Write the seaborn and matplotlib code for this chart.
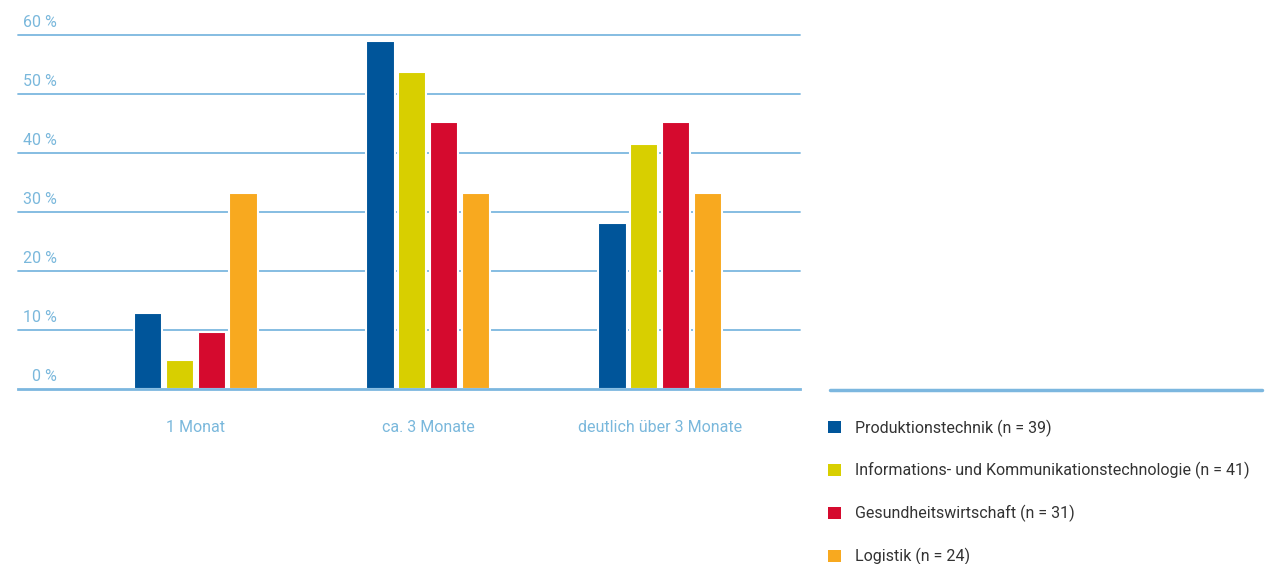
import matplotlib
matplotlib.use("Agg")
import matplotlib.pyplot as plt
import matplotlib.transforms as mtransforms
import seaborn as sns
import pandas as pd
from matplotlib.lines import Line2D

categories = ["1 Monat", "ca. 3 Monate", "deutlich über 3 Monate"]
series_names = [
    "Produktionstechnik (n = 39)",
    "Informations- und Kommunikationstechnologie (n = 41)",
    "Gesundheitswirtschaft (n = 31)",
    "Logistik (n = 24)",
]
produktion = [12.8, 59.0, 28.2]
ikt = [4.9, 53.7, 41.5]
gesundheit = [9.7, 45.2, 45.2]
logistik = [33.3, 33.3, 33.3]
y_ticks = [0, 10, 20, 30, 40, 50, 60]
y_tick_labels = ["0 %", "10 %", "20 %", "30 %", "40 %", "50 %", "60 %"]

colors = ["#00559a", "#d8cf00", "#d50a2e", "#f8a91f"]
grid_color = "#7cb7df"
label_color = "#7ab8dc"
text_color = "#333333"

rows = []
for name, vals in zip(series_names, [produktion, ikt, gesundheit, logistik]):
    for c, v in zip(categories, vals):
        rows.append({"Kategorie": c, "Branche": name, "Wert": v})
df = pd.DataFrame(rows)

sns.set_theme(style="white")
plt.rcParams["font.family"] = ["Roboto", "DejaVu Sans"]

W, H = 1265, 564
fig = plt.figure(figsize=(W / 100, H / 100), dpi=100)
ax = fig.add_axes([18 / W, (H - 389) / H, (800 - 18) / W, (389 - 35) / H])

sns.barplot(data=df, x="Kategorie", y="Wert", hue="Branche", order=categories,
            hue_order=series_names, palette=colors, width=0.55, gap=0.1,
            edgecolor="white", linewidth=1.5, saturation=1, ax=ax, zorder=3,
            legend=True)

ax.set_ylim(0, 60)
ax.set_xlim(-0.767, 2.603)
ax.set_yticks(y_ticks)
ax.set_yticklabels(y_tick_labels)
for t in y_ticks[1:]:
    ax.axhline(t, color=grid_color, lw=1.3, zorder=1, clip_on=False)

for s in ["top", "right", "left"]:
    ax.spines[s].set_visible(False)
ax.spines["bottom"].set_color(grid_color)
ax.spines["bottom"].set_linewidth(2)
ax.spines["bottom"].set_zorder(4)

ax.tick_params(axis="y", length=0, pad=-28, labelsize=11.5, labelcolor=label_color)
offset = mtransforms.ScaledTranslation(0, 5 / 100, fig.dpi_scale_trans)
for lab in ax.get_yticklabels():
    lab.set_horizontalalignment("right")
    lab.set_verticalalignment("bottom")
    lab.set_transform(lab.get_transform() + offset)
ax.tick_params(axis="x", length=0, pad=22, labelsize=11.5, labelcolor=label_color)
ax.set_xlabel("")
ax.set_ylabel("")

handles, labels = ax.get_legend_handles_labels()
ax.get_legend().remove()
fig.legend(handles, labels, loc="upper left",
           bbox_to_anchor=(822 / W, (H - 413) / H), frameon=False,
           fontsize=11.5, labelcolor=text_color, labelspacing=1.6,
           handlelength=0.8, handleheight=0.8, handletextpad=0.85,
           borderaxespad=0)
for h in fig.legends[0].legend_handles:
    h.set_edgecolor("none")

fig.add_artist(Line2D([830 / W, 1262 / W], [(H - 390) / H, (H - 390) / H],
                      transform=fig.transFigure, color=grid_color, lw=2.5))

fig.savefig("out.png", dpi=100, facecolor="white")
